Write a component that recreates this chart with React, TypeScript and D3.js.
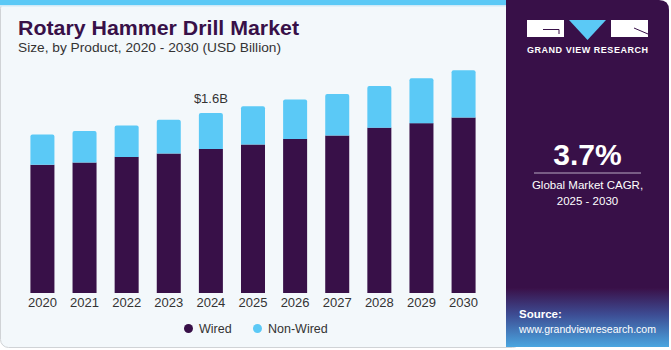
import React from 'react';
import * as d3 from 'd3';

// values (USD billion)
const years = ['2020', '2021', '2022', '2023', '2024', '2025', '2026', '2027', '2028', '2029', '2030'];
const wired = [1.14, 1.16, 1.21, 1.24, 1.28, 1.32, 1.37, 1.40, 1.47, 1.51, 1.56];
const nonWired = [0.27, 0.28, 0.28, 0.30, 0.32, 0.34, 0.35, 0.37, 0.37, 0.40, 0.42];
const seriesNames = ['Wired', 'Non-Wired'];
const colors = ['#381048', '#5bc9f6'];

const W = 671, H = 350;
const font = 'Liberation Sans, Arial, sans-serif';

export default function App() {
  const rows = years.map((y, i) => ({ year: y, Wired: wired[i], 'Non-Wired': nonWired[i] }));
  const stacked = d3.stack<any>().keys(seriesNames)(rows);

  // plot area
  const x = d3.scaleBand().domain(years).range([22, 484]).paddingInner(0.43).paddingOuter(0.2);
  const y = d3.scaleLinear().domain([0, 1.6]).range([293, 113]);

  const label2024 = 1.6;

  return (
    <svg width={W} height={H} style={{ position: 'absolute', left: 0, top: 0, fontFamily: font }}>
      <defs>
        <linearGradient id="src" x1="0" y1="0" x2="0" y2="1">
          <stop offset="0" stopColor="#3a1048" />
          <stop offset="0.45" stopColor="#3d4c93" />
          <stop offset="1" stopColor="#4aa6e0" />
        </linearGradient>
      </defs>
      {/* left panel */}
      <rect x={0.5} y={0.5} width={520} height={347} rx={8} fill="#f3f8fb" stroke="#d0d3d6" />
      <rect x={0} y={0} width={506} height={5} fill="#5bc9f6" />
      <rect x={0} y={5} width={506} height={1.5} fill="#cfe9f7" />

      {/* right panel */}
      <path d={`M506,0 H659 Q669,0 669,10 V347 H506 Z`} fill="#381048" />
      <rect x={506} y={288} width={163} height={59} fill="url(#src)" />

      {/* logo */}
      <rect x={527} y={20} width={37} height={17} fill="#ffffff" />
      <path d="M543,29.5 H559 V34" fill="none" stroke="#381048" strokeWidth={1} />
      <path d="M569,20 H606 L587.5,40 Z" fill="#5bc9f6" />
      <rect x={611} y={20} width={37} height={17} fill="#ffffff" />
      <path d="M634,28 L648,34" fill="none" stroke="#381048" strokeWidth={1} />
      <text x={527} y={53} fill="#ffffff" fontSize={9} fontWeight="bold" textLength={121} lengthAdjust="spacing">GRAND VIEW RESEARCH</text>

      {/* CAGR */}
      <text x={587.5} y={165} textAnchor="middle" fill="#ffffff" fontSize={30} fontWeight="bold">3.7%</text>
      <line x1={534} x2={641} y1={173} y2={173} stroke="#b8a9c2" strokeWidth={1} />
      <text x={587.5} y={189} textAnchor="middle" fill="#ffffff" fontSize={11.5}>Global Market CAGR,</text>
      <text x={587.5} y={205} textAnchor="middle" fill="#ffffff" fontSize={11.5}>2025 - 2030</text>

      {/* source */}
      <text x={519} y={318} fill="#ffffff" fontSize={11.5} fontWeight="bold">Source:</text>
      <text x={519} y={333} fill="#ffffff" fontSize={11.5} textLength={137} lengthAdjust="spacingAndGlyphs">www.grandviewresearch.com</text>

      {/* title */}
      <text x={18} y={35} fill="#381048" fontSize={21} fontWeight="bold" textLength={281} lengthAdjust="spacingAndGlyphs">Rotary Hammer Drill Market</text>
      <text x={18} y={52} fill="#333333" fontSize={13.5} textLength={263} lengthAdjust="spacingAndGlyphs">Size, by Product, 2020 - 2030 (USD Billion)</text>

      {/* bars */}
      {stacked.map((s, si) => (
        <g key={s.key} fill={colors[si]}>
          {s.map((d, i) => {
            const x0 = x(years[i])!;
            const top = y(d[1]);
            const bot = y(d[0]);
            if (si === 1) {
              const r = 2;
              const w = x.bandwidth();
              return (
                <path key={i}
                  d={`M${x0},${bot} V${top + r} Q${x0},${top} ${x0 + r},${top} H${x0 + w - r} Q${x0 + w},${top} ${x0 + w},${top + r} V${bot} Z`} />
              );
            }
            return <rect key={i} x={x0} y={top} width={x.bandwidth()} height={bot - top} />;
          })}
        </g>
      ))}

      {/* value label */}
      <text x={x('2024')! + x.bandwidth() / 2} y={y(label2024) - 10} textAnchor="middle" fill="#333333" fontSize={13}>$1.6B</text>

      {/* x axis labels */}
      {years.map(yr => (
        <text key={yr} x={x(yr)! + x.bandwidth() / 2} y={307} textAnchor="middle" fill="#333333" fontSize={13}>{yr}</text>
      ))}

      {/* legend */}
      <circle cx={188.5} cy={328.5} r={4.5} fill={colors[0]} />
      <text x={199} y={333} fill="#333333" fontSize={12.5}>Wired</text>
      <circle cx={257.5} cy={328.5} r={4.5} fill={colors[1]} />
      <text x={268} y={333} fill="#333333" fontSize={12.5}>Non-Wired</text>
    </svg>
  );
}
